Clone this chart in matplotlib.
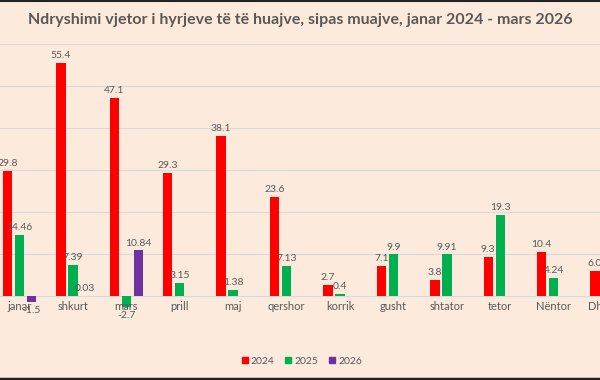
import numpy as np
import matplotlib
matplotlib.use("Agg")
import matplotlib.pyplot as plt
from matplotlib.lines import Line2D
from matplotlib.patches import Patch

months = ["janar", "shkurt", "mars", "prill", "maj", "qershor", "korrik",
          "gusht", "shtator", "tetor", "Nëntor", "Dhjetor"]
v2024 = [29.8, 55.4, 47.1, 29.3, 38.1, 23.6, 2.7, 7.1, 3.8, 9.3, 10.4, 6.0]
v2025 = [14.46, 7.39, -2.7, 3.15, 1.38, 7.13, 0.4, 9.9, 9.91, 19.3, 4.24, None]
v2026 = [-1.5, 0.03, 10.84]
series_names = ["2024", "2025", "2026"]
colors = ["#FF0000", "#00B050", "#7030A0"]
title = "Ndryshimi vjetor i hyrjeve të të huajve, sipas muajve, janar 2024 - mars 2026"

bg = "#FCEBDD"
txt = "#595959"
plt.rcParams['font.family'] = ['Lato', 'DejaVu Sans']

fig = plt.figure(figsize=(6, 3.8), dpi=100, facecolor=bg)
ax = fig.add_axes([0, (380 - 338) / 380, 1, (338 - 43.7) / 380])
ax.set_facecolor(bg)
ax.set_xlim(-0.365, 10.867)
ax.set_ylim(-10, 60)

width = 0.175
offs = [-0.225, 0.0, 0.225]
for s, (vals, col, off) in enumerate(zip([v2024, v2025, v2026], colors, offs)):
    for i, v in enumerate(vals):
        if v is None:
            continue
        x = i + off
        ax.bar(x, v, width=width, color=col, zorder=3)
        if v >= 0:
            ax.annotate(str(v), (x, v), xytext=(0, 2), textcoords="offset points",
                        ha="center", va="bottom", fontsize=7.5, color=txt, zorder=4)
        else:
            ax.annotate(str(v), (x, v), xytext=(0, -3), textcoords="offset points",
                        ha="center", va="top", fontsize=7.5, color=txt, zorder=4)

for i, m in enumerate(months):
    ax.text(i, -1.3, m, ha="center", va="top", fontsize=8, color=txt)

ax.set_yticks(np.arange(-10, 61, 10))
ax.grid(axis="y", color="#d9d9d9", lw=0.8, zorder=0)
ax.tick_params(left=False, bottom=False, labelleft=False, labelbottom=False)
for sp in ax.spines.values():
    sp.set_visible(False)

fig.text(0.5, 1 - 20 / 380, title, ha="center", va="center", fontsize=11.5,
         fontweight="bold", color=txt)

handles = [Patch(color=c, label=n) for c, n in zip(colors, series_names)]
fig.legend(handles=handles, loc="center", bbox_to_anchor=(0.503, 1 - 361 / 380),
           ncol=3, frameon=False, fontsize=7.5, labelcolor=txt,
           handlelength=0.6, handleheight=0.6, handletextpad=0.3, columnspacing=1.0)

fig.add_artist(Line2D([0, 1], [1 - 0.8 / 380, 1 - 0.8 / 380], transform=fig.transFigure,
                      color="#222222", lw=1.5))
fig.add_artist(Line2D([0, 1], [1.5 / 380, 1.5 / 380], transform=fig.transFigure,
                      color="#222222", lw=2.5))

fig.savefig("out.png", dpi=100, facecolor=bg)
